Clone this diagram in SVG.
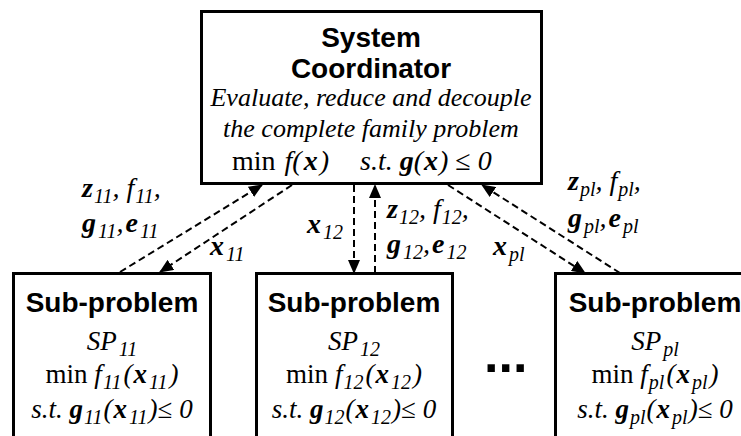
<svg xmlns="http://www.w3.org/2000/svg" width="741" height="436" viewBox="0 0 741 436">
<defs>
<style>
.box{fill:#fff;stroke:#000;stroke-width:3}
.cn{fill:none;stroke:#000;stroke-width:2;stroke-dasharray:7,4}
.h{font-family:"Liberation Sans",Arial,sans-serif;font-weight:bold;font-size:28px;fill:#000}
.m{font-family:"Liberation Serif","Times New Roman",serif;font-size:28px;fill:#000}
.ev{font-size:26px;font-style:italic}
.k{font-size:27px}
.i{font-style:italic}
.b{font-weight:bold;font-style:italic}
.s{font-size:20px;font-style:italic;font-weight:normal}
.dots{font-size:52px}
</style>
<marker id="ah" markerWidth="14" markerHeight="12" refX="13" refY="6" orient="auto" markerUnits="userSpaceOnUse">
<path d="M0,0 L14,6 L0,12 Z" fill="#000"/>
</marker>
</defs>
<rect width="741" height="436" fill="#fff"/>

<g id="coordinator">
<rect class="box" x="201.5" y="11.5" width="340" height="172"/>
<text class="h" x="371" y="47" text-anchor="middle">System</text>
<text class="h" x="371" y="78" text-anchor="middle">Coordinator</text>
<text class="m ev" x="371" y="106" text-anchor="middle">Evaluate, reduce and decouple</text>
<text class="m ev" x="371" y="137" text-anchor="middle">the complete family problem</text>
<text class="m" x="232" y="170">min <tspan class="i" dx="2">f(</tspan><tspan class="b" dx="2">x</tspan><tspan class="i" dx="2">)</tspan></text>
<text class="m" x="360" y="170"><tspan class="i">s.t. </tspan><tspan class="b">g</tspan><tspan class="i">(</tspan><tspan class="b" dx="1">x</tspan><tspan class="i" dx="1">)</tspan> ≤ <tspan class="i">0</tspan></text>
</g>

<g id="sp11">
<rect class="box" x="13.5" y="273.5" width="197" height="180"/>
<text class="h" x="112" y="312" text-anchor="middle">Sub-problem</text>
<text class="m k" x="112" y="350" text-anchor="middle"><tspan class="i">SP</tspan><tspan class="s" dx="2" dy="6">11</tspan></text>
<text class="m k" x="112" y="383" text-anchor="middle">min <tspan class="i">f</tspan><tspan class="s" dx="1" dy="6">11</tspan><tspan class="i" dx="2" dy="-6">(</tspan><tspan class="b" dx="1">x</tspan><tspan class="s" dx="2" dy="6">11</tspan><tspan class="i" dx="2" dy="-6">)</tspan></text>
<text class="m k" x="112" y="418" text-anchor="middle"><tspan class="i">s.t. </tspan><tspan class="b">g</tspan><tspan class="s" dx="1" dy="6">11</tspan><tspan class="i" dx="1" dy="-6">(</tspan><tspan class="b" dx="1">x</tspan><tspan class="s" dx="2" dy="6">11</tspan><tspan class="i" dx="1" dy="-6">)</tspan>≤ <tspan class="i">0</tspan></text>
</g>

<g id="sp12">
<rect class="box" x="256.5" y="273.5" width="196" height="180"/>
<text class="h" x="354" y="312" text-anchor="middle">Sub-problem</text>
<text class="m k" x="354" y="350" text-anchor="middle"><tspan class="i">SP</tspan><tspan class="s" dx="2" dy="6">12</tspan></text>
<text class="m k" x="354" y="383" text-anchor="middle">min <tspan class="i">f</tspan><tspan class="s" dx="1" dy="6">12</tspan><tspan class="i" dx="2" dy="-6">(</tspan><tspan class="b" dx="1">x</tspan><tspan class="s" dx="2" dy="6">12</tspan><tspan class="i" dx="2" dy="-6">)</tspan></text>
<text class="m k" x="354" y="418" text-anchor="middle"><tspan class="i">s.t. </tspan><tspan class="b">g</tspan><tspan class="s" dx="1" dy="6">12</tspan><tspan class="i" dx="1" dy="-6">(</tspan><tspan class="b" dx="1">x</tspan><tspan class="s" dx="2" dy="6">12</tspan><tspan class="i" dx="1" dy="-6">)</tspan>≤ <tspan class="i">0</tspan></text>
</g>

<g id="sppl">
<rect class="box" x="555.5" y="273.5" width="198" height="180"/>
<text class="h" x="655" y="312" text-anchor="middle">Sub-problem</text>
<text class="m k" x="655" y="350" text-anchor="middle"><tspan class="i">SP</tspan><tspan class="s" dx="2" dy="6">pl</tspan></text>
<text class="m k" x="655" y="383" text-anchor="middle">min <tspan class="i">f</tspan><tspan class="s" dx="1" dy="6">pl</tspan><tspan class="i" dx="2" dy="-6">(</tspan><tspan class="b" dx="1">x</tspan><tspan class="s" dx="2" dy="6">pl</tspan><tspan class="i" dx="2" dy="-6">)</tspan></text>
<text class="m k" x="655" y="418" text-anchor="middle"><tspan class="i">s.t. </tspan><tspan class="b">g</tspan><tspan class="s" dx="1" dy="6">pl</tspan><tspan class="i" dx="1" dy="-6">(</tspan><tspan class="b" dx="1">x</tspan><tspan class="s" dx="2" dy="6">pl</tspan><tspan class="i" dx="1" dy="-6">)</tspan>≤ <tspan class="i">0</tspan></text>
</g>

<g id="ellipsis">
<text class="h dots" x="484" y="372">...</text>
</g>

<g id="connectors">
<line class="cn" x1="120" y1="272" x2="262" y2="185" marker-end="url(#ah)"/>
<line class="cn" x1="292" y1="185" x2="160" y2="272" marker-end="url(#ah)"/>
<line class="cn" x1="354" y1="185" x2="354" y2="273" marker-end="url(#ah)"/>
<line class="cn" x1="375" y1="273" x2="375" y2="185" marker-end="url(#ah)"/>
<line class="cn" x1="448" y1="185" x2="585" y2="273" marker-end="url(#ah)"/>
<line class="cn" x1="620" y1="273" x2="482" y2="185" marker-end="url(#ah)"/>
</g>

<g id="labels">
<text class="m" x="82" y="197"><tspan class="b">z</tspan><tspan class="s" dx="1" dy="6">11</tspan><tspan class="i" dy="-6">, f</tspan><tspan class="s" dx="1" dy="6">11</tspan><tspan class="i" dy="-6">,</tspan></text>
<text class="m" x="82" y="232"><tspan class="b">g</tspan><tspan class="s" dx="2" dy="6">11</tspan><tspan class="i" dy="-6">,</tspan><tspan class="b" dx="2">e</tspan><tspan class="s" dx="2" dy="6">11</tspan></text>
<text class="m" x="210" y="255"><tspan class="b">x</tspan><tspan class="s" dx="2" dy="6">11</tspan></text>
<text class="m" x="307" y="233"><tspan class="b">x</tspan><tspan class="s" dx="2" dy="6">12</tspan></text>
<text class="m" x="387" y="218"><tspan class="b">z</tspan><tspan class="s" dx="1" dy="6">12</tspan><tspan class="i" dy="-6">, f</tspan><tspan class="s" dx="1" dy="6">12</tspan><tspan class="i" dy="-6">,</tspan></text>
<text class="m" x="387" y="253"><tspan class="b">g</tspan><tspan class="s" dx="2" dy="6">12</tspan><tspan class="i" dy="-6">,</tspan><tspan class="b" dx="2">e</tspan><tspan class="s" dx="2" dy="6">12</tspan></text>
<text class="m" x="493" y="255"><tspan class="b">x</tspan><tspan class="s" dx="2" dy="6">pl</tspan></text>
<text class="m" x="568" y="190"><tspan class="b">z</tspan><tspan class="s" dx="1" dy="6">pl</tspan><tspan class="i" dy="-6">, f</tspan><tspan class="s" dx="1" dy="6">pl</tspan><tspan class="i" dy="-6">,</tspan></text>
<text class="m" x="568" y="227"><tspan class="b">g</tspan><tspan class="s" dx="2" dy="6">pl</tspan><tspan class="i" dy="-6">,</tspan><tspan class="b" dx="2">e</tspan><tspan class="s" dx="2" dy="6">pl</tspan></text>
</g>
</svg>
